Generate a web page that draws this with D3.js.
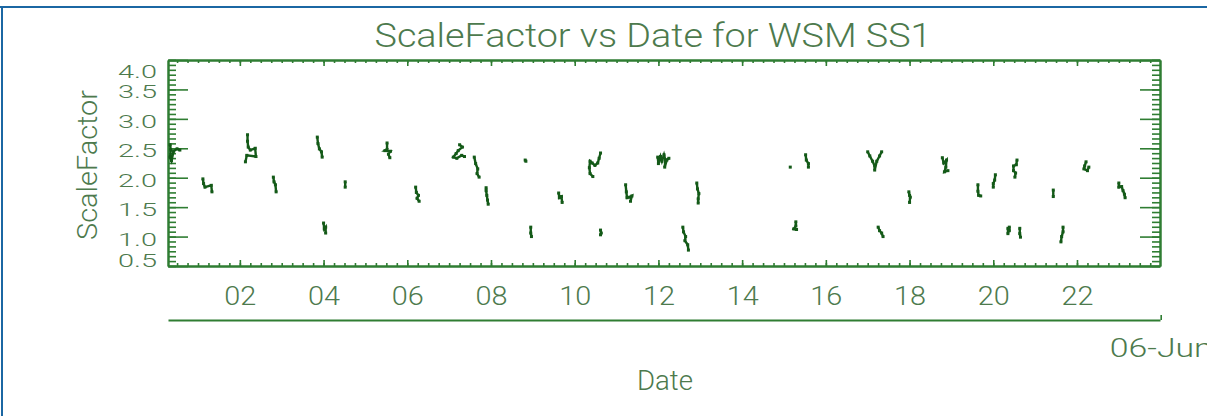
<!DOCTYPE html>
<html>
<head>
<meta charset="utf-8">
<script src="https://cdn.jsdelivr.net/npm/d3@7"></script>
<style>
  body { margin: 0; background: #fff; }
  svg { display: block; }
</style>
</head>
<body>
<div id="chart"></div>
<script>
// ---- data ----
const day = "2006-06-06";
const xStart = "00:17";
const xEnd = "23:59";
const yTicks = [0.5, 1.0, 1.5, 2.0, 2.5, 3.0, 3.5, 4.0];

// one entry per pass, times on 06-Jun (UTC)
const passTimes = [
  ["00:20", "00:21", "00:20", "00:22", "00:25", "00:30", "00:34"],
  ["01:07", "01:08", "01:10", "01:19", "01:20"],
  ["02:11", "02:11", "02:12", "02:15", "02:22", "02:23", "02:10", "02:08"],
  ["02:48", "02:49", "02:51", "02:52"],
  ["03:51", "03:52", "03:54", "03:57", "03:58"],
  ["04:00", "04:01", "04:03", "04:03"],
  ["04:31", "04:31"],
  ["05:31", "05:31", "05:28", "05:36", "05:33", "05:35"],
  ["06:12", "06:13", "06:16", "06:14", "06:17"],
  ["07:15", "07:19", "07:13", "07:10", "07:06", "07:11", "07:18", "07:22"],
  ["07:36", "07:38", "07:41", "07:40", "07:43"],
  ["08:49", "08:50"],
  ["07:53", "07:53", "07:54", "07:55", "07:56"],
  ["09:37", "09:38", "09:41", "09:42"],
  ["08:57", "08:57", "08:58"],
  ["10:37", "10:35", "10:33", "10:29", "10:25", "10:22", "10:21", "10:22", "10:26"],
  ["11:59", "12:00", "12:03", "12:05", "12:08", "12:10", "12:09", "12:12", "12:15"],
  ["11:13", "11:14", "11:15", "11:19", "11:22", "11:20"],
  ["12:55", "12:56", "12:58", "12:57", "12:57"],
  ["10:37", "10:38", "10:37"],
  ["12:35", "12:36", "12:39", "12:38", "12:42", "12:43"],
  ["15:09"],
  ["15:31", "15:32", "15:35", "15:35"],
  ["17:00", "17:03", "17:07", "17:10", "17:10", "17:13", "17:17", "17:20"],
  ["18:47", "18:49", "18:53", "18:52", "18:50", "18:55"],
  ["17:59", "18:00", "18:01", "18:00"],
  ["15:17", "15:17", "15:14", "15:18"],
  ["17:15", "17:17", "17:20", "17:22"],
  ["19:38", "19:38", "19:39", "19:42"],
  ["20:03", "20:02", "20:00", "20:00"],
  ["20:34", "20:33", "20:29", "20:29", "20:32", "20:31"],
  ["21:26", "21:26"],
  ["22:13", "22:11", "22:10", "22:15", "22:17"],
  ["23:00", "23:00", "23:04", "23:06", "23:08", "23:09"],
  ["20:21", "20:21", "20:23", "20:23"],
  ["20:38", "20:38", "20:39"],
  ["21:40", "21:40", "21:38", "21:37"]
];
const passScale = [
  [2.56, 2.47, 2.35, 2.29, 2.45, 2.49, 2.47],
  [1.98, 1.90, 1.84, 1.87, 1.76],
  [2.73, 2.62, 2.52, 2.47, 2.50, 2.36, 2.38, 2.27],
  [2.01, 1.93, 1.88, 1.76],
  [2.69, 2.58, 2.49, 2.44, 2.35],
  [1.23, 1.13, 1.16, 1.06],
  [1.93, 1.84],
  [2.59, 2.48, 2.46, 2.45, 2.40, 2.34],
  [1.84, 1.75, 1.70, 1.65, 1.60],
  [2.56, 2.52, 2.46, 2.41, 2.35, 2.33, 2.38, 2.36],
  [2.35, 2.24, 2.15, 2.07, 2.01],
  [2.30, 2.28],
  [1.83, 1.78, 1.70, 1.62, 1.55],
  [1.74, 1.66, 1.68, 1.58],
  [1.16, 1.06, 1.00],
  [2.42, 2.33, 2.25, 2.21, 2.25, 2.28, 2.17, 2.07, 2.02],
  [2.35, 2.24, 2.36, 2.28, 2.39, 2.30, 2.18, 2.30, 2.33],
  [1.88, 1.76, 1.66, 1.67, 1.69, 1.60],
  [1.91, 1.81, 1.73, 1.64, 1.57],
  [1.11, 1.06, 1.03],
  [1.16, 1.08, 1.00, 0.93, 0.86, 0.77],
  [2.18],
  [2.39, 2.30, 2.24, 2.18],
  [2.44, 2.37, 2.28, 2.20, 2.13, 2.28, 2.37, 2.44],
  [2.34, 2.25, 2.30, 2.18, 2.10, 2.12],
  [1.76, 1.70, 1.67, 1.58],
  [1.25, 1.18, 1.13, 1.12],
  [1.16, 1.10, 1.06, 1.00],
  [1.88, 1.77, 1.70, 1.69],
  [2.05, 1.96, 1.90, 1.84],
  [2.30, 2.22, 2.20, 2.12, 2.08, 2.01],
  [1.79, 1.68],
  [2.27, 2.20, 2.15, 2.12, 2.18],
  [1.91, 1.84, 1.85, 1.78, 1.72, 1.66],
  [1.14, 1.05, 1.16, 1.10],
  [1.14, 1.05, 0.99],
  [1.16, 1.08, 1.00, 0.91]
];

// ---- layout ----
const width = 1207, height = 416;
const margin = {top: 60, right: 47, bottom: 150, left: 168};
const axisColor = "#2f7d32";
const textColor = "#4d7a4d";
const dataColor = "#145a18";
const font = "Roboto, 'DejaVu Sans', sans-serif";

const parse = d3.utcParse("%Y-%m-%d %H:%M");
const at = t => parse(day + " " + t);

const svg = d3.select("#chart").append("svg")
  .attr("width", width)
  .attr("height", height);

svg.append("rect").attr("width", width).attr("height", height).attr("fill", "#fff");

// blue page frame (top and left edges)
svg.append("line").attr("x1", 0).attr("x2", width).attr("y1", 7).attr("y2", 7)
  .attr("stroke", "#1b67a3").attr("stroke-width", 2);
svg.append("line").attr("x1", 2).attr("x2", 2).attr("y1", 7).attr("y2", height)
  .attr("stroke", "#1b67a3").attr("stroke-width", 2);

const x = d3.scaleUtc()
  .domain([at(xStart), at(xEnd)])
  .range([margin.left, width - margin.right]);
const y = d3.scaleLinear()
  .domain([d3.min(yTicks), d3.max(yTicks)])
  .range([height - margin.bottom, margin.top]);

const y0 = height - margin.bottom, y1 = margin.top;
const x0 = margin.left, x1 = width - margin.right;

// minor y ticks: 6 steps per major interval
const yMinor = d3.range(0, (yTicks.length - 1) * 6 + 1).map(i => yTicks[0] + i * 0.5 / 6);

function styleAxis(g) {
  g.attr("font-family", font).attr("font-size", 19).attr("font-weight", 300);
  g.select(".domain").attr("stroke", axisColor).attr("stroke-width", 2);
  g.selectAll(".tick line").attr("stroke", axisColor).attr("stroke-width", 1.6);
  g.selectAll(".tick text").attr("fill", textColor);
}

// left axis
svg.append("g").attr("transform", `translate(${x0},0)`)
  .call(d3.axisLeft(y).tickValues(yMinor).tickSize(-8).tickSizeOuter(0).tickFormat(""))
  .call(styleAxis);
svg.append("g").attr("transform", `translate(${x0},0)`)
  .call(d3.axisLeft(y).tickValues(yTicks).tickSize(-20).tickSizeOuter(0)
    .tickPadding(11).tickFormat(d3.format(".1f")))
  .call(styleAxis)
  .call(g => g.selectAll(".tick text")
    .attr("textLength", 39).attr("lengthAdjust", "spacingAndGlyphs")
    .attr("dy", d => d === 4 ? "0.9em" : d === 0.5 ? "0em" : "0.45em"));

// right axis
svg.append("g").attr("transform", `translate(${x1},0)`)
  .call(d3.axisRight(y).tickValues(yMinor).tickSize(-8).tickSizeOuter(0).tickFormat(""))
  .call(styleAxis);
svg.append("g").attr("transform", `translate(${x1},0)`)
  .call(d3.axisRight(y).tickValues(yTicks).tickSize(-20).tickSizeOuter(0).tickFormat(""))
  .call(styleAxis);

// bottom axis
svg.append("g").attr("transform", `translate(0,${y0})`)
  .call(d3.axisBottom(x).ticks(d3.utcMinute.every(15)).tickSize(-3).tickSizeOuter(0).tickFormat(""))
  .call(styleAxis);
svg.append("g").attr("transform", `translate(0,${y0})`)
  .call(d3.axisBottom(x).ticks(d3.utcHour.every(2)).tickSize(-6).tickSizeOuter(0)
    .tickPadding(21).tickFormat(d3.utcFormat("%H")))
  .call(styleAxis)
  .call(g => g.selectAll(".tick text").attr("font-size", 26)
    .attr("textLength", 32).attr("lengthAdjust", "spacingAndGlyphs"));

// top axis
svg.append("g").attr("transform", `translate(0,${y1})`)
  .call(d3.axisTop(x).ticks(d3.utcMinute.every(15)).tickSize(-3).tickSizeOuter(0).tickFormat(""))
  .call(styleAxis);
svg.append("g").attr("transform", `translate(0,${y1})`)
  .call(d3.axisTop(x).ticks(d3.utcHour.every(2)).tickSize(-6).tickSizeOuter(0).tickFormat(""))
  .call(styleAxis);

// second level (day) axis
const dayEnd = d3.utcDay.offset(at("00:00"), 1);
svg.append("g").attr("transform", `translate(0,320)`)
  .call(d3.axisBottom(x).tickValues([dayEnd]).tickSize(-5).tickSizeOuter(0).tickFormat(""))
  .call(styleAxis);

const label = sel => sel.attr("font-family", font).attr("font-weight", 300)
  .attr("fill", textColor).attr("lengthAdjust", "spacingAndGlyphs");

svg.append("text")
  .attr("x", x(dayEnd) - 51).attr("y", 357)
  .attr("font-size", 26).attr("textLength", 103)
  .call(label)
  .text(d3.utcFormat("%d-%b")(at("00:00")));

// titles
svg.append("text")
  .attr("x", 653).attr("y", 47)
  .attr("text-anchor", "middle")
  .attr("font-size", 34).attr("textLength", 557)
  .call(label)
  .text("ScaleFactor vs Date for WSM SS1");

svg.append("text")
  .attr("x", 665).attr("y", 390)
  .attr("text-anchor", "middle")
  .attr("font-size", 27).attr("textLength", 56)
  .call(label)
  .text("Date");

svg.append("text")
  .attr("transform", "translate(97,165) rotate(-90)")
  .attr("text-anchor", "middle")
  .attr("font-size", 28).attr("textLength", 150)
  .call(label)
  .text("ScaleFactor");

// data
const passes = passTimes.map((ts, i) => ts.map((t, j) => ({t: at(t), v: passScale[i][j]})));
const line = d3.line().x(d => x(d.t)).y(d => y(d.v));

const plot = svg.append("g");
plot.selectAll("path.pass")
  .data(passes)
  .join("path")
  .attr("class", "pass")
  .attr("d", line)
  .attr("fill", "none")
  .attr("stroke", dataColor)
  .attr("stroke-width", 2.4);

plot.selectAll("rect.pt")
  .data(passes.flat())
  .join("rect")
  .attr("class", "pt")
  .attr("x", d => x(d.t) - 1.5)
  .attr("y", d => y(d.v) - 1.5)
  .attr("width", 3)
  .attr("height", 3)
  .attr("fill", dataColor);
</script>
</body>
</html>
